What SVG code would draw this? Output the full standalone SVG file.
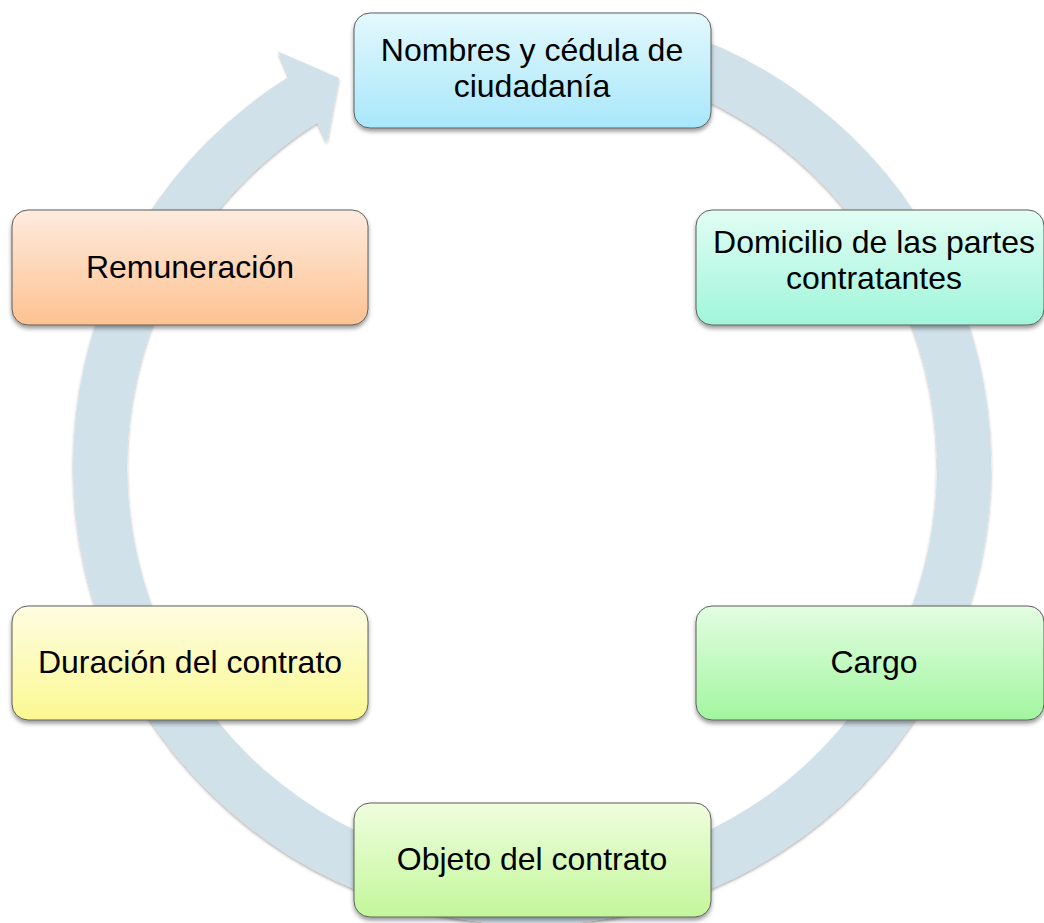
<svg xmlns="http://www.w3.org/2000/svg" width="1044" height="923" viewBox="0 0 1044 923">
  <defs>
    <filter id="shadow" x="-10%" y="-10%" width="120%" height="130%">
      <feDropShadow dx="0" dy="3" stdDeviation="2" flood-color="#000" flood-opacity="0.4"/>
    </filter>
    <filter id="ringShadow" x="-10%" y="-10%" width="120%" height="120%">
      <feDropShadow dx="0" dy="2" stdDeviation="1.5" flood-color="#000" flood-opacity="0.3"/>
    </filter>
    <linearGradient id="gBlue" x1="0" y1="0" x2="0" y2="1">
      <stop offset="0" stop-color="#e3f8fd"/>
      <stop offset="1" stop-color="#a8e7fa"/>
    </linearGradient>
    <linearGradient id="gMint" x1="0" y1="0" x2="0" y2="1">
      <stop offset="0" stop-color="#e1fdf4"/>
      <stop offset="1" stop-color="#a0f5da"/>
    </linearGradient>
    <linearGradient id="gGreen" x1="0" y1="0" x2="0" y2="1">
      <stop offset="0" stop-color="#e3fde1"/>
      <stop offset="1" stop-color="#a2f6a0"/>
    </linearGradient>
    <linearGradient id="gLime" x1="0" y1="0" x2="0" y2="1">
      <stop offset="0" stop-color="#effddd"/>
      <stop offset="1" stop-color="#c3f79b"/>
    </linearGradient>
    <linearGradient id="gYellow" x1="0" y1="0" x2="0" y2="1">
      <stop offset="0" stop-color="#fefde1"/>
      <stop offset="1" stop-color="#fbf891"/>
    </linearGradient>
    <linearGradient id="gPeach" x1="0" y1="0" x2="0" y2="1">
      <stop offset="0" stop-color="#feebde"/>
      <stop offset="1" stop-color="#fdc291"/>
    </linearGradient>
    <style>
      .box { stroke: #5e5e5e; stroke-width: 1; filter: url(#shadow); }
      .label { font-family: "Liberation Sans", Arial, sans-serif; font-size: 32px; fill: #000; text-anchor: middle; }
      .ring { fill: #d0e1e9; filter: url(#ringShadow); }
    </style>
  </defs>
  <rect x="0" y="0" width="1044" height="923" fill="#ffffff"/>

  <g id="connectors">
    <path class="ring" d="M 673.8 29.4 A 459 459 0 1 1 288.8 76.8 L 278.1 51.6 L 339 78 L 326.8 142.6 L 317.4 122.6 A 405 405 0 1 0 657.1 80.8 Z"/>
  </g>

  <g id="node-nombres">
    <rect class="box" x="354" y="13" width="357" height="115" rx="16" fill="url(#gBlue)"/>
    <text class="label" x="532" y="61">Nombres y cédula de</text>
    <text class="label" x="532" y="97">ciudadanía</text>
  </g>

  <g id="node-domicilio">
    <rect class="box" x="696" y="210" width="348" height="115" rx="16" fill="url(#gMint)"/>
    <text class="label" x="874" y="253">Domicilio de las partes</text>
    <text class="label" x="874" y="289">contratantes</text>
  </g>

  <g id="node-cargo">
    <rect class="box" x="696" y="606" width="348" height="114" rx="16" fill="url(#gGreen)"/>
    <text class="label" x="874" y="673">Cargo</text>
  </g>

  <g id="node-objeto">
    <rect class="box" x="354" y="803" width="357" height="114" rx="16" fill="url(#gLime)"/>
    <text class="label" x="532" y="870">Objeto del contrato</text>
  </g>

  <g id="node-duracion">
    <rect class="box" x="12" y="606" width="356" height="114" rx="16" fill="url(#gYellow)"/>
    <text class="label" x="190" y="673">Duración del contrato</text>
  </g>

  <g id="node-remuneracion">
    <rect class="box" x="12" y="210" width="356" height="115" rx="16" fill="url(#gPeach)"/>
    <text class="label" x="190" y="278">Remuneración</text>
  </g>
</svg>
